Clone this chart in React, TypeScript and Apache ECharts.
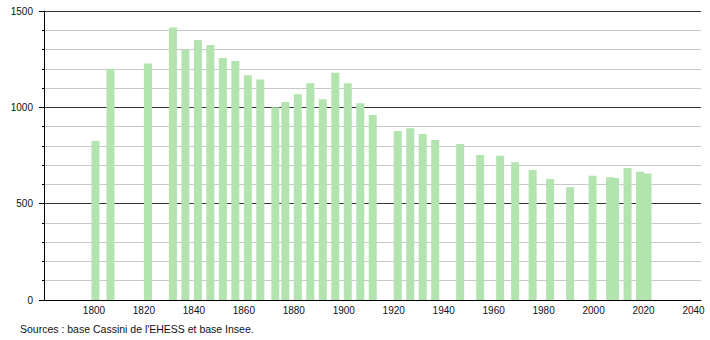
import React, { useEffect, useRef } from "react";
import * as echarts from "echarts";

const years = [1800, 1806, 1821, 1831, 1836, 1841, 1846, 1851, 1856, 1861, 1866, 1872, 1876, 1881, 1886, 1891, 1896, 1901, 1906, 1911, 1921, 1926, 1931, 1936, 1946, 1954, 1962, 1968, 1975, 1982, 1990, 1999, 2006, 2008, 2013, 2018, 2021];
const population = [825, 1200, 1228, 1415, 1301, 1349, 1323, 1256, 1240, 1166, 1145, 1000, 1028, 1068, 1125, 1042, 1180, 1125, 1021, 960, 877, 891, 862, 830, 810, 753, 749, 715, 675, 628, 585, 645, 637, 633, 685, 666, 657];
const xTickLabels = [1800, 1820, 1840, 1860, 1880, 1900, 1920, 1940, 1960, 1980, 2000, 2020, 2040];
const yTickLabels = [0, 500, 1000, 1500];
const sourceText = "Sources : base Cassini de l'EHESS et base Insee.";

export default function App() {
  const ref = useRef<HTMLDivElement>(null);
  useEffect(() => {
    if (!ref.current) return;
    const chart = echarts.init(ref.current, null, { renderer: "svg" });
    const font = "'Liberation Sans', Arial, sans-serif";
    chart.setOption({
      animation: false,
      backgroundColor: "#ffffff",
      grid: { left: 44, right: 9, top: 11, bottom: 40, containLabel: false },
      xAxis: [
        {
          type: "value",
          min: 1780,
          max: 2043,
          interval: 20,
          axisLine: { show: true, lineStyle: { color: "#000", width: 1 } },
          axisTick: { show: false },
          splitLine: { show: false },
          axisLabel: {
            margin: 5,
            color: "#111",
            fontSize: 10,
            fontFamily: font,
            showMinLabel: true,
            showMaxLabel: true,
            formatter: (v: number) => (xTickLabels.includes(v) ? String(v) : ""),
          },
        },
        {
          type: "value",
          min: 1779.4,
          max: 2042.4,
          show: false,
        },
      ],
      yAxis: {
        type: "value",
        min: 0,
        max: 1500,
        interval: 500,
        axisLine: { show: true, lineStyle: { color: "#000", width: 1 } },
        axisTick: { show: true, length: 5, lineStyle: { color: "#000" } },
        minorTick: { show: true, splitNumber: 5, length: 2, lineStyle: { color: "#000" } },
        splitLine: { show: true, lineStyle: { color: "#333", width: 1 } },
        minorSplitLine: { show: true, lineStyle: { color: "#c8c8c8", width: 1 } },
        axisLabel: {
          margin: 11,
          color: "#111",
          fontSize: 10,
          fontFamily: font,
          formatter: (v: number) => (yTickLabels.includes(v) ? String(v) : ""),
        },
      },
      series: [
        {
          type: "bar",
          xAxisIndex: 1,
          barWidth: 8,
          itemStyle: { color: "#b3e3ae" },
          data: years.map((y, i) => [y, population[i]]),
        },
      ],
      graphic: [
        {
          type: "text",
          left: 20,
          top: 323,
          style: { text: sourceText, fill: "#111", fontSize: 10.5, fontFamily: font },
        },
      ],
    });
    return () => chart.dispose();
  }, []);
  return (
    <div
      ref={ref}
      style={{ position: "fixed", left: 0, top: 0, width: 710, height: 340 }}
    />
  );
}
